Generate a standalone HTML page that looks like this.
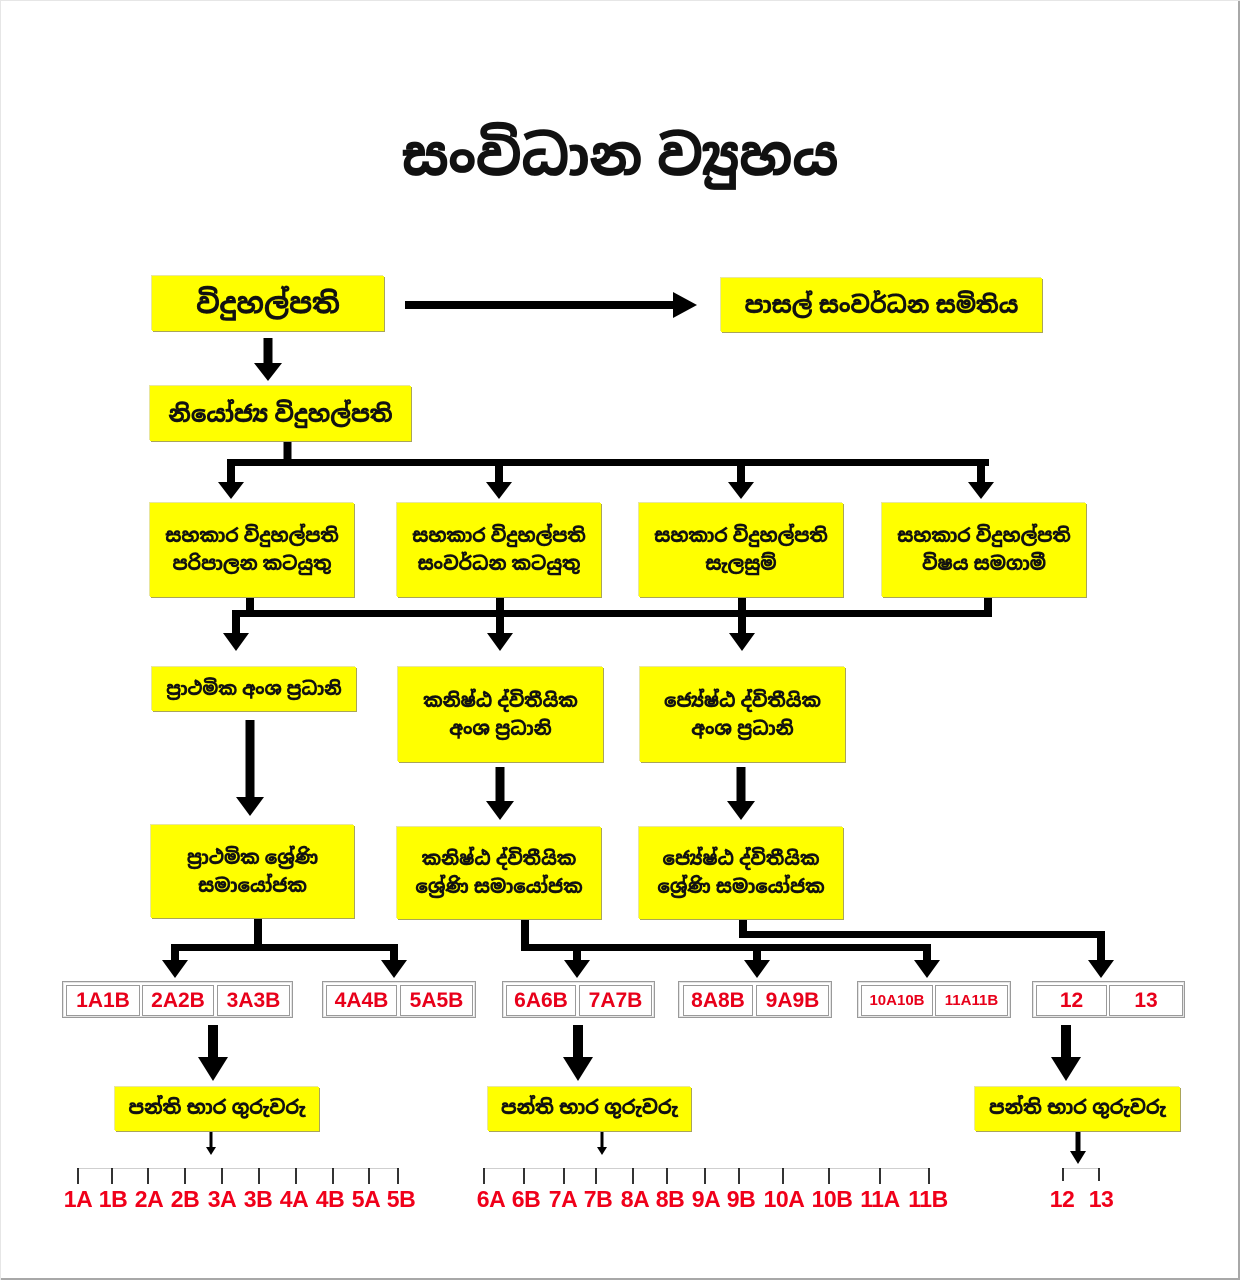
<!DOCTYPE html>
<html><head><meta charset="utf-8">
<style>
html,body{margin:0;padding:0;background:#fff;}
#c{position:relative;width:1240px;height:1280px;overflow:hidden;background:#fff;font-family:"Liberation Sans","Noto Sans Sinhala","Iskoola Pota",sans-serif;}
.bx{position:absolute;background:#ffff00;box-shadow:1px 1px 0 #a9a45a, -1px -1px 0 #e8e6a0;display:flex;align-items:center;justify-content:center;text-align:center;font-weight:bold;color:#111;line-height:28px;font-size:18.5px;-webkit-text-stroke:0.4px #111;}
.grp{position:absolute;border:1px solid #9a9a9a;box-shadow:inset 0 0 0 1px #e4e4e4;background:#fff;height:35px;top:981px;}
.cell{position:absolute;top:985px;height:29px;border:1px solid #9a9a9a;background:#fff;color:#e8001a;font-weight:bold;font-size:21px;display:flex;align-items:center;justify-content:center;font-family:"Liberation Sans",sans-serif;}
.lb{position:absolute;top:1185px;width:50px;margin-left:-25px;text-align:center;color:#f0001a;font-weight:bold;font-size:23px;font-family:"Liberation Sans",sans-serif;line-height:28px;letter-spacing:-0.5px;}
#title{position:absolute;left:0;width:1240px;top:124px;text-align:center;font-size:54px;font-weight:bold;color:#111;line-height:66px;-webkit-text-stroke:0.8px #111;}
</style></head><body>
<div id="c">
<div style="position:absolute;right:0;top:0;width:2px;height:1280px;background:#a8a8a8"></div>
<div style="position:absolute;left:0;bottom:0;width:1240px;height:2px;background:#a8a8a8"></div>
<div style="position:absolute;left:0;top:0;width:1px;height:1280px;background:#e6e6e6"></div>
<div style="position:absolute;left:0;top:0;width:1240px;height:1px;background:#e6e6e6"></div>

<div id="title">සංවිධාන ව්‍යුහය</div>

<svg width="1240" height="1280" style="position:absolute;left:0;top:0" xmlns="http://www.w3.org/2000/svg">
<g fill="#000">
<polygon points="405,301 673,301 673,292 697,305 673,318 673,309 405,309"/>
<polygon points="263.5,338 272.5,338 272.5,363 282,363 268,381 254,363 263.5,363"/>
<rect x="283.5" y="441" width="8" height="25"/>
<rect x="227" y="459" width="762" height="7"/>
<polygon points="227,459 235,459 235,482 244,482 231,499 218,482 227,482"/>
<polygon points="495,459 503,459 503,482 512,482 499,499 486,482 495,482"/>
<polygon points="737,459 745,459 745,482 754,482 741,499 728,482 737,482"/>
<polygon points="977,459 985,459 985,482 994,482 981,499 968,482 977,482"/>
<rect x="246" y="597" width="8" height="20"/>
<rect x="984" y="597" width="8" height="20"/>
<rect x="232" y="610" width="760" height="7"/>
<polygon points="232,610 240,610 240,633 249,633 236,651 223,633 232,633"/>
<polygon points="496,597 504,597 504,633 513,633 500,651 487,633 496,633"/>
<polygon points="738,597 746,597 746,633 755,633 742,651 729,633 738,633"/>
<polygon points="245.5,720 254.5,720 254.5,797 264,797 250,816 236,797 245.5,797"/>
<polygon points="495.5,767 504.5,767 504.5,801 514,801 500,820 486,801 495.5,801"/>
<polygon points="736.5,767 745.5,767 745.5,801 755,801 741,820 727,801 736.5,801"/>
<rect x="254" y="918" width="8" height="33"/>
<rect x="171" y="944" width="227" height="7"/>
<polygon points="171,944 179,944 179,960 188,960 175,978 162,960 171,960"/>
<polygon points="390,944 398,944 398,960 407,960 394,978 381,960 390,960"/>
<rect x="521" y="919" width="8" height="32"/>
<rect x="521" y="944" width="410" height="7"/>
<polygon points="573,944 581,944 581,960 590,960 577,978 564,960 573,960"/>
<polygon points="753,944 761,944 761,960 770,960 757,978 744,960 753,960"/>
<polygon points="923,944 931,944 931,960 940,960 927,978 914,960 923,960"/>
<rect x="739" y="919" width="8" height="19"/>
<rect x="739" y="931" width="366" height="7"/>
<polygon points="1097,931 1105,931 1105,960 1114,960 1101,978 1088,960 1097,960"/>
<polygon points="208,1025 218,1025 218,1057 228,1057 213,1081 198,1057 208,1057"/>
<polygon points="573,1025 583,1025 583,1057 593,1057 578,1081 563,1057 573,1057"/>
<polygon points="1061,1025 1071,1025 1071,1057 1081,1057 1066,1081 1051,1057 1061,1057"/>
<polygon points="209.5,1132 212.5,1132 212.5,1147 216,1147 211,1155 206,1147 209.5,1147"/>
<polygon points="600.5,1132 603.5,1132 603.5,1147 607,1147 602,1155 597,1147 600.5,1147"/>
<polygon points="1075.5,1132 1080.5,1132 1080.5,1151 1086,1151 1078,1164 1070,1151 1075.5,1151"/>
</g>
<g stroke="#cfcfcf" stroke-width="1">
<line x1="77" y1="1168.5" x2="399" y2="1168.5"/>
<line x1="483" y1="1168.5" x2="930" y2="1168.5"/>
<line x1="1062" y1="1168.5" x2="1100" y2="1168.5"/>
</g>
<g stroke="#000" stroke-width="1.6">
<line x1="78" y1="1168" x2="78" y2="1184"/><line x1="112" y1="1168" x2="112" y2="1184"/><line x1="148" y1="1168" x2="148" y2="1184"/><line x1="185" y1="1168" x2="185" y2="1184"/><line x1="222" y1="1168" x2="222" y2="1184"/><line x1="259" y1="1168" x2="259" y2="1184"/><line x1="296" y1="1168" x2="296" y2="1184"/><line x1="333" y1="1168" x2="333" y2="1184"/><line x1="369" y1="1168" x2="369" y2="1184"/><line x1="398" y1="1168" x2="398" y2="1184"/>
<line x1="484" y1="1168" x2="484" y2="1184"/><line x1="524" y1="1168" x2="524" y2="1184"/><line x1="564" y1="1168" x2="564" y2="1184"/><line x1="596" y1="1168" x2="596" y2="1184"/><line x1="633" y1="1168" x2="633" y2="1184"/><line x1="667" y1="1168" x2="667" y2="1184"/><line x1="705" y1="1168" x2="705" y2="1184"/><line x1="739" y1="1168" x2="739" y2="1184"/><line x1="783" y1="1168" x2="783" y2="1184"/><line x1="829" y1="1168" x2="829" y2="1184"/><line x1="880" y1="1168" x2="880" y2="1184"/><line x1="929" y1="1168" x2="929" y2="1184"/>
<line x1="1063" y1="1168" x2="1063" y2="1181"/><line x1="1099" y1="1168" x2="1099" y2="1181"/>
</g>
</svg>

<div class="bx" style="left:152px;top:276px;width:232px;height:55px;font-size:28px;">විදුහල්පති</div>
<div class="bx" style="left:721px;top:278px;width:321px;height:54px;font-size:23px;">පාසල් සංවර්ධන සමිතිය</div>
<div class="bx" style="left:150px;top:386px;width:261px;height:55px;font-size:23px;">නියෝජ්‍ය විදුහල්පති</div>

<div class="bx" style="left:150px;top:503px;width:204px;height:94px;">සහකාර විදුහල්පති<br>පරිපාලන කටයුතු</div>
<div class="bx" style="left:397px;top:503px;width:204px;height:94px;">සහකාර විදුහල්පති<br>සංවර්ධන කටයුතු</div>
<div class="bx" style="left:639px;top:503px;width:204px;height:94px;">සහකාර විදුහල්පති<br>සැලසුම්</div>
<div class="bx" style="left:882px;top:503px;width:204px;height:94px;">සහකාර විදුහල්පති<br>විෂය සමගාමී</div>

<div class="bx" style="left:152px;top:667px;width:204px;height:44px;font-size:18px;">ප්‍රාථමික අංශ ප්‍රධානි</div>
<div class="bx" style="left:398px;top:667px;width:205px;height:95px;">කනිෂ්ඨ ද්විතීයික<br>අංශ ප්‍රධානි</div>
<div class="bx" style="left:640px;top:667px;width:205px;height:95px;">ජ්‍යේෂ්ඨ ද්විතීයික<br>අංශ ප්‍රධානි</div>

<div class="bx" style="left:151px;top:825px;width:203px;height:93px;">ප්‍රාථමික ශ්‍රේණි<br>සමායෝජක</div>
<div class="bx" style="left:397px;top:827px;width:204px;height:92px;">කනිෂ්ඨ ද්විතීයික<br>ශ්‍රේණි සමායෝජක</div>
<div class="bx" style="left:639px;top:827px;width:204px;height:92px;">ජ්‍යේෂ්ඨ ද්විතීයික<br>ශ්‍රේණි සමායෝජක</div>

<div class="bx" style="left:115px;top:1087px;width:204px;height:44px;font-size:19px;">පන්ති භාර ගුරුවරු</div>
<div class="bx" style="left:488px;top:1087px;width:203px;height:44px;font-size:19px;">පන්ති භාර ගුරුවරු</div>
<div class="bx" style="left:975px;top:1087px;width:205px;height:44px;font-size:19px;">පන්ති භාර ගුරුවරු</div>

<div class="grp" style="left:62px;width:229px;"></div>
<div class="cell" style="left:66px;width:72px;">1A1B</div>
<div class="cell" style="left:142px;width:70px;">2A2B</div>
<div class="cell" style="left:217px;width:71px;">3A3B</div>

<div class="grp" style="left:322px;width:152px;"></div>
<div class="cell" style="left:326px;width:69px;">4A4B</div>
<div class="cell" style="left:400px;width:71px;">5A5B</div>

<div class="grp" style="left:502px;width:151px;"></div>
<div class="cell" style="left:506px;width:68px;">6A6B</div>
<div class="cell" style="left:579px;width:71px;">7A7B</div>

<div class="grp" style="left:678px;width:152px;"></div>
<div class="cell" style="left:683px;width:68px;">8A8B</div>
<div class="cell" style="left:756px;width:71px;">9A9B</div>

<div class="grp" style="left:857px;width:152px;"></div>
<div class="cell" style="left:861px;width:70px;font-size:15px;">10A10B</div>
<div class="cell" style="left:935px;width:71px;font-size:15px;">11A11B</div>

<div class="grp" style="left:1032px;width:151px;"></div>
<div class="cell" style="left:1036px;width:69px;">12</div>
<div class="cell" style="left:1109px;width:72px;">13</div>

<div class="lb" style="left:78px">1A</div>
<div class="lb" style="left:113px">1B</div>
<div class="lb" style="left:149px">2A</div>
<div class="lb" style="left:185px">2B</div>
<div class="lb" style="left:222px">3A</div>
<div class="lb" style="left:258px">3B</div>
<div class="lb" style="left:294px">4A</div>
<div class="lb" style="left:330px">4B</div>
<div class="lb" style="left:366px">5A</div>
<div class="lb" style="left:401px">5B</div>

<div class="lb" style="left:491px">6A</div>
<div class="lb" style="left:526px">6B</div>
<div class="lb" style="left:563px">7A</div>
<div class="lb" style="left:598px">7B</div>
<div class="lb" style="left:635px">8A</div>
<div class="lb" style="left:670px">8B</div>
<div class="lb" style="left:706px">9A</div>
<div class="lb" style="left:741px">9B</div>
<div class="lb" style="left:784px">10A</div>
<div class="lb" style="left:832px">10B</div>
<div class="lb" style="left:880px">11A</div>
<div class="lb" style="left:928px">11B</div>

<div class="lb" style="left:1062px">12</div>
<div class="lb" style="left:1101px">13</div>
</div>
</body></html>
